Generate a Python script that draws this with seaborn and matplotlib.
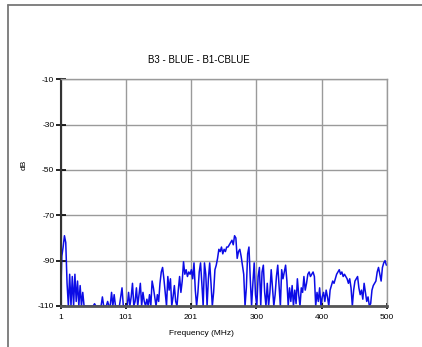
import numpy as np
import pandas as pd
import matplotlib
matplotlib.use("Agg")
import matplotlib.pyplot as plt
from matplotlib.lines import Line2D
import seaborn as sns

# spectrum, one value every 2 MHz (1 .. 499)
freq_mhz = np.arange(1, 501, 2)
level_db = [
    -108, -88, -84, -79, -82, -100, -110, -96, -110, -97,
    -110, -96, -108, -99, -110, -101, -110, -104, -110, -110,
    -110, -110, -110, -110, -110, -110, -109, -110, -110, -110,
    -110, -110, -106, -110, -110, -110, -108, -110, -110, -104,
    -110, -105, -110, -110, -110, -110, -106, -102, -110, -110,
    -110, -110, -104, -110, -106, -100, -110, -108, -102, -110,
    -105, -100, -110, -104, -108, -110, -107, -110, -105, -110,
    -99, -102, -106, -110, -105, -108, -100, -95, -93, -98,
    -104, -110, -97, -103, -98, -110, -106, -101, -108, -110,
    -103, -97, -104, -99, -90.5, -96, -94, -97, -95, -96,
    -94, -98, -91, -103, -110, -104, -95, -91, -100, -110,
    -91, -96, -110, -98, -91, -100, -110, -104, -94, -92,
    -89, -85, -86, -84, -87, -85, -86, -84, -84, -83,
    -82, -81, -83, -79, -80, -89, -86, -85, -88, -92,
    -96, -110, -102, -87, -84, -98, -110, -100, -91, -105,
    -110, -97, -93, -110, -95, -92, -104, -110, -100, -110,
    -104, -94, -102, -110, -105, -97, -92, -101, -110, -94,
    -98, -95, -92, -99, -110, -102, -108, -101, -110, -103,
    -109, -98, -105, -110, -102, -104, -97, -103, -100, -96,
    -95, -97, -96, -95, -97, -110, -104, -108, -102, -110,
    -106, -104, -108, -103, -106, -110, -103, -101, -99, -100,
    -98, -96, -95, -94, -96, -95, -97, -96, -97, -98,
    -100, -98, -102, -110, -103, -99, -98, -97, -102, -105,
    -103, -107, -100, -104, -108, -106, -110, -109, -103, -101,
    -100, -99, -95, -93, -96, -99, -93, -91, -90, -92,
]

x_ticks = np.linspace(1, 500, 6)
x_tick_labels = ["1", "101", "201", "300", "400", "500"]
y_ticks = [-110, -90, -70, -50, -30, -10]

df = pd.DataFrame({"freq": freq_mhz, "dB": level_db})

sns.set_style("white")
plt.rcParams["font.family"] = ["Liberation Sans", "DejaVu Sans"]
plt.rcParams["axes.unicode_minus"] = False
plt.rcParams["text.color"] = "black"
plt.rcParams["xtick.color"] = "black"
plt.rcParams["ytick.color"] = "black"

fig = plt.figure(figsize=(4.22, 3.47), dpi=100)
ax = fig.add_axes([0.1434, 0.1182, 0.7737, 0.6533])

ax.grid(True, color="#9a9a9a", linewidth=1.0)
ax.set_axisbelow(True)

sns.lineplot(data=df, x="freq", y="dB", color="#0c0ce6", linewidth=1.1, ax=ax)

ax.set_xlim(1, 500)
ax.set_ylim(-110, -10)
ax.set_xticks(x_ticks)
ax.set_xticklabels(x_tick_labels)
ax.set_yticks(y_ticks)
ax.set_xlabel("")
ax.set_ylabel("")
ax.tick_params(axis="y", direction="inout", length=7, width=1.2, colors="black",
               labelsize=6, pad=1, left=True)
ax.tick_params(axis="x", direction="inout", length=4, width=1.2, colors="black",
               labelsize=6, pad=4, bottom=True)

for side in ["top", "right"]:
    ax.spines[side].set_color("#9a9a9a")
    ax.spines[side].set_linewidth(1.0)
ax.spines["left"].set_color("#333333")
ax.spines["left"].set_linewidth(1.5)
ax.spines["bottom"].set_color("#555555")
ax.spines["bottom"].set_linewidth(2.0)

fig.text(0.472, 0.827, "B3 - BLUE - B1-CBLUE", ha="center", va="center", fontsize=7)
fig.text(0.478, 0.040, "Frequency (MHz)", ha="center", va="center", fontsize=6)
fig.text(0.057, 0.525, "dB", ha="center", va="center", fontsize=6, rotation=90)

# page frame cut by the image edge
fig.add_artist(Line2D([8 / 422, 1], [1 - 5 / 347, 1 - 5 / 347], color="#777777", linewidth=1.3))
fig.add_artist(Line2D([8 / 422, 8 / 422], [0, 1 - 5 / 347], color="#777777", linewidth=1.3))

fig.savefig("out.png", dpi=100)
